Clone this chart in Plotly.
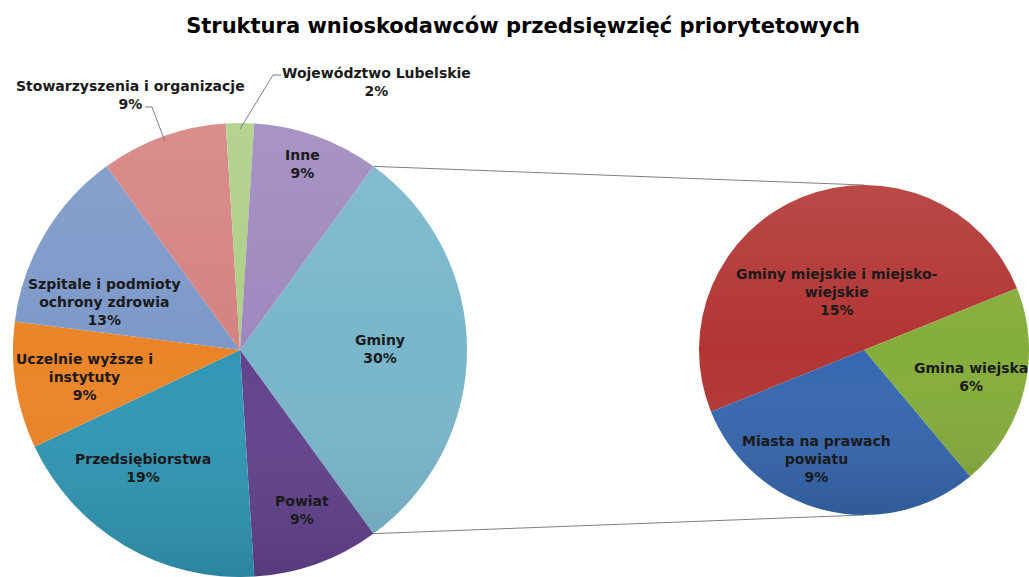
import math
import base64
import plotly.graph_objects as go

# ---- data ----
main_labels = ["Gminy", "Powiat", "Przedsiębiorstwa", "Uczelnie wyższe i instytuty",
               "Szpitale i podmioty ochrony zdrowia", "Stowarzyszenia i organizacje",
               "Województwo Lubelskie", "Inne"]
main_values = [30, 9, 19, 9, 13, 9, 2, 9]

sub_labels = ["Gminy miejskie i miejsko-wiejskie", "Gmina wiejska", "Miasta na prawach powiatu"]
sub_values = [15, 6, 9]

title_text = "Struktura wnioskodawców przedsięwzięć priorytetowych"

# ---- style ----
main_colors = ["#79B6CB", "#62438C", "#3197B4", "#EB8428", "#7D99C9", "#D58280", "#ADCF86", "#9E88BE"]
sub_colors = ["#B23533", "#85AD3B", "#3667AF"]

wrap = {
    "Uczelnie wyższe i instytuty": "Uczelnie wyższe i<br>instytuty",
    "Szpitale i podmioty ochrony zdrowia": "Szpitale i podmioty<br>ochrony zdrowia",
    "Gminy miejskie i miejsko-wiejskie": "Gminy miejskie i miejsko-<br>wiejskie",
    "Miasta na prawach powiatu": "Miasta na prawach<br>powiatu",
}

# label block centres in pixels
main_label_pos = {
    "Gminy": (380, 349),
    "Powiat": (302, 510),
    "Przedsiębiorstwa": (143, 468),
    "Uczelnie wyższe i instytuty": (84, 377),
    "Szpitale i podmioty ochrony zdrowia": (104, 302),
    "Stowarzyszenia i organizacje": (130, 95),
    "Województwo Lubelskie": (376, 82),
    "Inne": (302, 164),
}
sub_label_pos = {
    "Gminy miejskie i miejsko-wiejskie": (837, 292),
    "Gmina wiejska": (971, 377),
    "Miasta na prawach powiatu": (816, 459),
}

W, H = 1029, 577
CX, CY, R = 240, 350, 227          # main pie
CX2, CY2, R2 = 864, 350, 165       # secondary pie
FONT = "DejaVu Sans"


def px(x):
    return x / W


def py(y):
    return 1 - y / H


def edge(cx, cy, r, deg):
    a = math.radians(deg)
    return cx + r * math.sin(a), cy - r * math.cos(a)


# the split slice (first one) is centred on 3 o'clock
total = sum(main_values)
split_span = main_values[0] / total * 360
rotation_main = 90 - split_span / 2

# slice angles (clockwise from 12 o'clock)
angles = {}
start = rotation_main
for lab, v in zip(main_labels, main_values):
    span = v / total * 360
    angles[lab] = (start, start + span)
    start += span

fig = go.Figure()

fig.add_trace(go.Pie(
    labels=main_labels, values=main_values, sort=False, direction="clockwise",
    rotation=rotation_main, marker=dict(colors=main_colors, line=dict(width=0)),
    textinfo="none", hoverinfo="label+percent", showlegend=False,
    domain=dict(x=[px(CX - R), px(CX + R)], y=[py(CY + R), py(CY - R)]),
))

sub_total = sum(sub_values)
rotation_sub = -112
fig.add_trace(go.Pie(
    labels=sub_labels, values=sub_values, sort=False, direction="clockwise",
    rotation=rotation_sub, marker=dict(colors=sub_colors, line=dict(width=0)),
    textinfo="none", hoverinfo="label+value", showlegend=False,
    domain=dict(x=[px(CX2 - R2), px(CX2 + R2)], y=[py(CY2 + R2), py(CY2 - R2)]),
))

shapes = []
# connector lines from the split slice to the secondary pie
a0, a1 = angles[main_labels[0]]
for ang, (ex, ey) in ((a0, (CX2, CY2 - R2)), (a1, (CX2, CY2 + R2))):
    sx, sy = edge(CX, CY, R, ang)
    shapes.append(dict(type="line", xref="paper", yref="paper",
                       x0=px(sx), y0=py(sy), x1=px(ex), y1=py(ey),
                       line=dict(color="#7f7f7f", width=1), layer="below"))

# leader lines for the outside labels
def leader(label, knee, end):
    s0, s1 = angles[label]
    ax, ay = edge(CX, CY, R - 6, (s0 + s1) / 2)
    path = f"M {px(ax)} {py(ay)} L {px(knee[0])} {py(knee[1])} L {px(end[0])} {py(end[1])}"
    shapes.append(dict(type="path", xref="paper", yref="paper", path=path,
                       line=dict(color="#7f7f7f", width=1)))

leader("Stowarzyszenia i organizacje", (152, 107), (145, 107))
leader("Województwo Lubelskie", (273, 75), (281, 75))

annotations = []
for lab, v in zip(main_labels, main_values):
    x, y = main_label_pos[lab]
    annotations.append(dict(
        x=px(x), y=py(y), xref="paper", yref="paper", showarrow=False,
        xanchor="center", yanchor="middle", align="center",
        text=f"{wrap.get(lab, lab)}<br>{v}%",
        font=dict(family=FONT, size=14, color="#1a1a1a", weight="bold")))
for lab, v in zip(sub_labels, sub_values):
    x, y = sub_label_pos[lab]
    annotations.append(dict(
        x=px(x), y=py(y), xref="paper", yref="paper", showarrow=False,
        xanchor="center", yanchor="middle", align="center",
        text=f"{wrap.get(lab, lab)}<br>{v}%",
        font=dict(family=FONT, size=14, color="#1a1a1a", weight="bold")))

# soft vertical shading over each pie
svg = ("<svg xmlns='http://www.w3.org/2000/svg' width='200' height='200'>"
       "<defs><linearGradient id='g' x1='0' y1='0' x2='0' y2='1'>"
       "<stop offset='0' stop-color='#ffffff' stop-opacity='0.10'/>"
       "<stop offset='0.5' stop-color='#ffffff' stop-opacity='0'/>"
       "<stop offset='1' stop-color='#000000' stop-opacity='0.12'/>"
       "</linearGradient></defs>"
       "<circle cx='100' cy='100' r='100' fill='url(#g)'/></svg>")
shade = "data:image/svg+xml;base64," + base64.b64encode(svg.encode()).decode()
images = []
for cx, cy, r in ((CX, CY, R), (CX2, CY2, R2)):
    images.append(dict(source=shade, xref="paper", yref="paper",
                       x=px(cx - r), y=py(cy - r), sizex=2 * r / W, sizey=2 * r / H,
                       xanchor="left", yanchor="top", sizing="stretch", layer="above"))

fig.update_layout(
    width=W, height=H,
    margin=dict(l=0, r=0, t=0, b=0),
    paper_bgcolor="white", plot_bgcolor="white",
    title=dict(text=title_text, x=523 / W, xanchor="center", y=1 - 26 / H, yanchor="middle",
               yref="container",
               font=dict(family=FONT, size=21, color="#000000", weight="bold")),
    shapes=shapes, annotations=annotations, images=images,
)

fig.write_html("out.html")
